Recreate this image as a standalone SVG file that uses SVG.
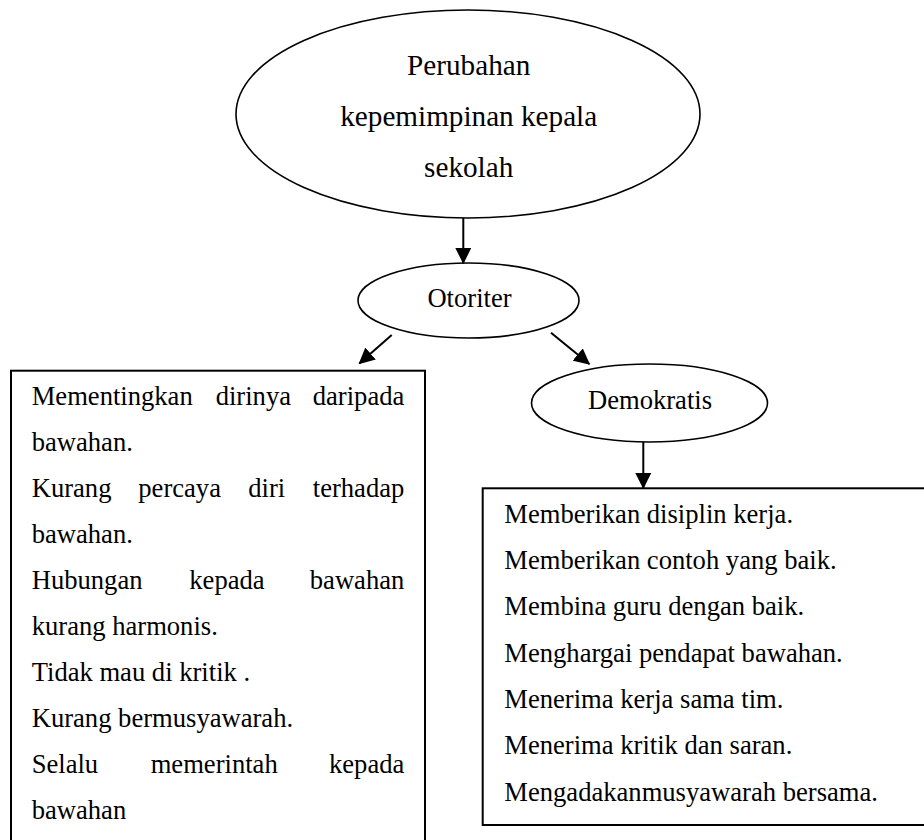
<svg xmlns="http://www.w3.org/2000/svg" width="924" height="840" viewBox="0 0 924 840">
<style>
  text { font-family: "Liberation Serif", "Times New Roman", serif; fill: #000; }
  .t { font-size: 29.2px; text-anchor: middle; }
  .n { font-size: 26.6px; text-anchor: middle; }
  .b { font-size: 26.6px; }
  .e { text-anchor: end; }
  .shape { fill: #fff; stroke: #000; stroke-width: 1.6; }
  .box { fill: #fff; stroke: #000; stroke-width: 2; }
  .conn { stroke: #000; stroke-width: 2; fill: none; }
</style>
<defs>
  <marker id="ah" markerUnits="userSpaceOnUse" markerWidth="16" markerHeight="16" refX="15" refY="8" orient="auto" viewBox="0 0 16 16">
    <path d="M0,0 L16,8 L0,16 z" fill="#000"/>
  </marker>
</defs>
<rect width="924" height="840" fill="#fff"/>

<g id="node-perubahan">
  <ellipse class="shape" cx="468" cy="114" rx="232" ry="104"/>
  <text class="t" x="468.7" y="75">Perubahan</text>
  <text class="t" x="468.7" y="125.5">kepemimpinan kepala</text>
  <text class="t" x="468.7" y="177">sekolah</text>
</g>

<g id="node-otoriter">
  <ellipse class="shape" cx="468.5" cy="300.5" rx="110.5" ry="37.5"/>
  <text class="n" x="469.5" y="307">Otoriter</text>
</g>

<g id="node-demokratis">
  <ellipse class="shape" cx="649.5" cy="403" rx="118" ry="39"/>
  <text class="n" x="650" y="408.5">Demokratis</text>
</g>

<g id="node-otoriter-list">
  <rect class="box" x="11" y="370.7" width="414" height="480"/>
  <text class="b" x="31.7" y="405">Mementingkan</text>
  <text class="b" x="215.7" y="405">dirinya</text>
  <text class="b e" x="404.3" y="405">daripada</text>
  <text class="b" x="31.7" y="451">bawahan.</text>
  <text class="b" x="31.7" y="497">Kurang</text>
  <text class="b" x="138.3" y="497">percaya</text>
  <text class="b" x="248.3" y="497">diri</text>
  <text class="b e" x="404.3" y="497">terhadap</text>
  <text class="b" x="31.7" y="543">bawahan.</text>
  <text class="b" x="31.7" y="589">Hubungan</text>
  <text class="b" x="189.3" y="589">kepada</text>
  <text class="b e" x="404.3" y="589">bawahan</text>
  <text class="b" x="31.7" y="635">kurang harmonis.</text>
  <text class="b" x="31.7" y="681">Tidak mau di kritik .</text>
  <text class="b" x="31.7" y="727">Kurang bermusyawarah.</text>
  <text class="b" x="31.7" y="773">Selalu</text>
  <text class="b" x="150.7" y="773">memerintah</text>
  <text class="b e" x="404.3" y="773">kepada</text>
  <text class="b" x="31.7" y="819">bawahan</text>
</g>

<g id="node-demokratis-list">
  <rect class="box" x="482.7" y="488.3" width="460" height="336.7"/>
  <text class="b" x="504.3" y="523">Memberikan disiplin kerja.</text>
  <text class="b" x="504.3" y="569.2">Memberikan contoh yang baik.</text>
  <text class="b" x="504.3" y="615.4">Membina guru dengan baik.</text>
  <text class="b" x="504.3" y="661.6">Menghargai pendapat bawahan.</text>
  <text class="b" x="504.3" y="707.8">Menerima kerja sama tim.</text>
  <text class="b" x="504.3" y="754">Menerima kritik dan saran.</text>
  <text class="b" x="504.3" y="800.8">Mengadakanmusyawarah bersama.</text>
</g>

<g id="connectors">
  <line class="conn" x1="463.3" y1="218" x2="463.3" y2="263" marker-end="url(#ah)"/>
  <line class="conn" x1="391.7" y1="335" x2="359.3" y2="363.5" marker-end="url(#ah)"/>
  <line class="conn" x1="551" y1="332.7" x2="589.3" y2="364" marker-end="url(#ah)"/>
  <line class="conn" x1="643.3" y1="442" x2="643.3" y2="488" marker-end="url(#ah)"/>
</g>
</svg>
